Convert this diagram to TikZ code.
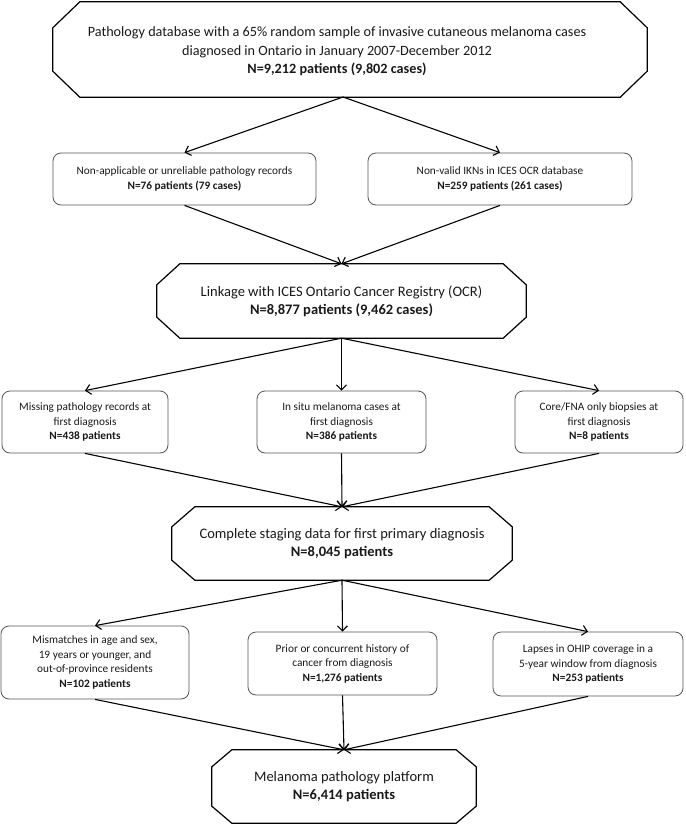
\documentclass[tikz,border=0pt]{standalone}
\usepackage{fontspec}
\setmainfont{Carlito}
\usetikzlibrary{arrows.meta}
\definecolor{boxgray}{RGB}{85,85,85}
\definecolor{txt}{RGB}{25,25,25}
\newcommand{\octframe}[3]{%
  \draw[octline] ([xshift=#2]#1.north west) -- ([xshift=-#2]#1.north east)
    -- ([yshift=-#3]#1.north east) -- ([yshift=#3]#1.south east)
    -- ([xshift=-#2]#1.south east) -- ([xshift=#2]#1.south west)
    -- ([yshift=#3]#1.south west) -- ([yshift=-#3]#1.north west) -- cycle;}
\begin{document}
\begin{tikzpicture}[x=1pt,y=-1pt,
  box/.style={draw=boxgray, line width=0.8pt, rounded corners=8pt, align=center,
    inner sep=0pt, font=\fontsize{11.3}{14.5}\selectfont, text=txt},
  oct/.style={inner sep=0pt, align=center, text=txt},
  octline/.style={draw=black, line width=1.2pt, line join=miter},
  arr/.style={draw=black, line width=1.1pt, -{Straight Barb[length=5pt,width=10pt]}},
]
\useasboundingbox (0,0) rectangle (685,824);

% top octagon
\node[oct, minimum width=594pt, minimum height=95pt] (top) at (350,49.5) {};
\octframe{top}{27pt}{26pt}
\node[oct, font=\fontsize{14.2}{18.5}\selectfont] (toptext) at (337,51.5)
  {Pathology database with a 65\% random sample of invasive cutaneous melanoma cases\\
   diagnosed in Ontario in January 2007-December 2012\\
   \textbf{N=9,212 patients (9,802 cases)}};
\coordinate (topb) at (343,97);

% row 2
\node[box, minimum width=263pt, minimum height=52pt] (b1) at (184.5,179)
  {Non-applicable or unreliable pathology records\\\textbf{N=76 patients (79 cases)}};
\node[box, minimum width=264pt, minimum height=52pt] (b2) at (500,179)
  {Non-valid IKNs in ICES OCR database\\\textbf{N=259 patients (261 cases)}};

% second octagon
\node[oct, minimum width=369pt, minimum height=74pt, font=\fontsize{14.5}{18}\selectfont] (o2) at (341.5,301)
  {Linkage with ICES Ontario Cancer Registry (OCR)\\\textbf{N=8,877 patients (9,462 cases)}};
\octframe{o2}{23pt}{21pt}

% row 3
\node[box, minimum width=166pt, minimum height=62pt] (c1) at (85,422)
  {Missing pathology records at\\first diagnosis\\\textbf{N=438 patients}};
\node[box, minimum width=169pt, minimum height=62pt] (c2) at (341.5,422)
  {In situ melanoma cases at\\first diagnosis\\\textbf{N=386 patients}};
\node[box, minimum width=168pt, minimum height=62pt] (c3) at (599,422)
  {Core/FNA only biopsies at\\first diagnosis\\\textbf{N=8 patients}};

% third octagon
\node[oct, minimum width=340pt, minimum height=73pt, font=\fontsize{14.5}{18}\selectfont] (o3) at (342,543.5)
  {Complete staging data for first primary diagnosis\\\textbf{N=8,045 patients}};
\octframe{o3}{23pt}{20pt}

% row 4
\node[box, minimum width=188pt, minimum height=73pt] (d1) at (95,662.5)
  {Mismatches in age and sex,\\19 years or younger, and\\out-of-province residents\\\textbf{N=102 patients}};
\node[box, minimum width=189pt, minimum height=63pt] (d2) at (342.5,663.5)
  {Prior or concurrent history of\\cancer from diagnosis\\\textbf{N=1,276 patients}};
\node[box, minimum width=190pt, minimum height=64pt] (d3) at (588,664)
  {Lapses in OHIP coverage in a\\5-year window from diagnosis\\\textbf{N=253 patients}};

% bottom octagon
\node[oct, minimum width=264pt, minimum height=73pt, font=\fontsize{14.5}{17.5}\selectfont] (o4) at (344,786.5)
  {Melanoma pathology platform\\\textbf{N=6,414 patients}};
\octframe{o4}{20pt}{17pt}

% connectors
\draw[arr] (topb) -- (b1.north);
\draw[arr] (topb) -- (b2.north);
\draw[arr] (b1.south) -- (o2.north);
\draw[arr] (b2.south) -- (o2.north);
\draw[arr] (o2.south) -- (c1.north);
\draw[arr] (o2.south) -- (c2.north);
\draw[arr] (o2.south) -- (c3.north);
\draw[arr] (c1.south) -- (o3.north);
\draw[arr] (c2.south) -- (o3.north);
\draw[arr] (c3.south) -- (o3.north);
\draw[arr] (o3.south) -- (d1.north);
\draw[arr] (o3.south) -- (d2.north);
\draw[arr] (o3.south) -- (d3.north);
\draw[arr] (d1.south) -- (o4.north);
\draw[arr] (d2.south) -- (o4.north);
\draw[arr] (d3.south) -- (o4.north);
\end{tikzpicture}
\end{document}
